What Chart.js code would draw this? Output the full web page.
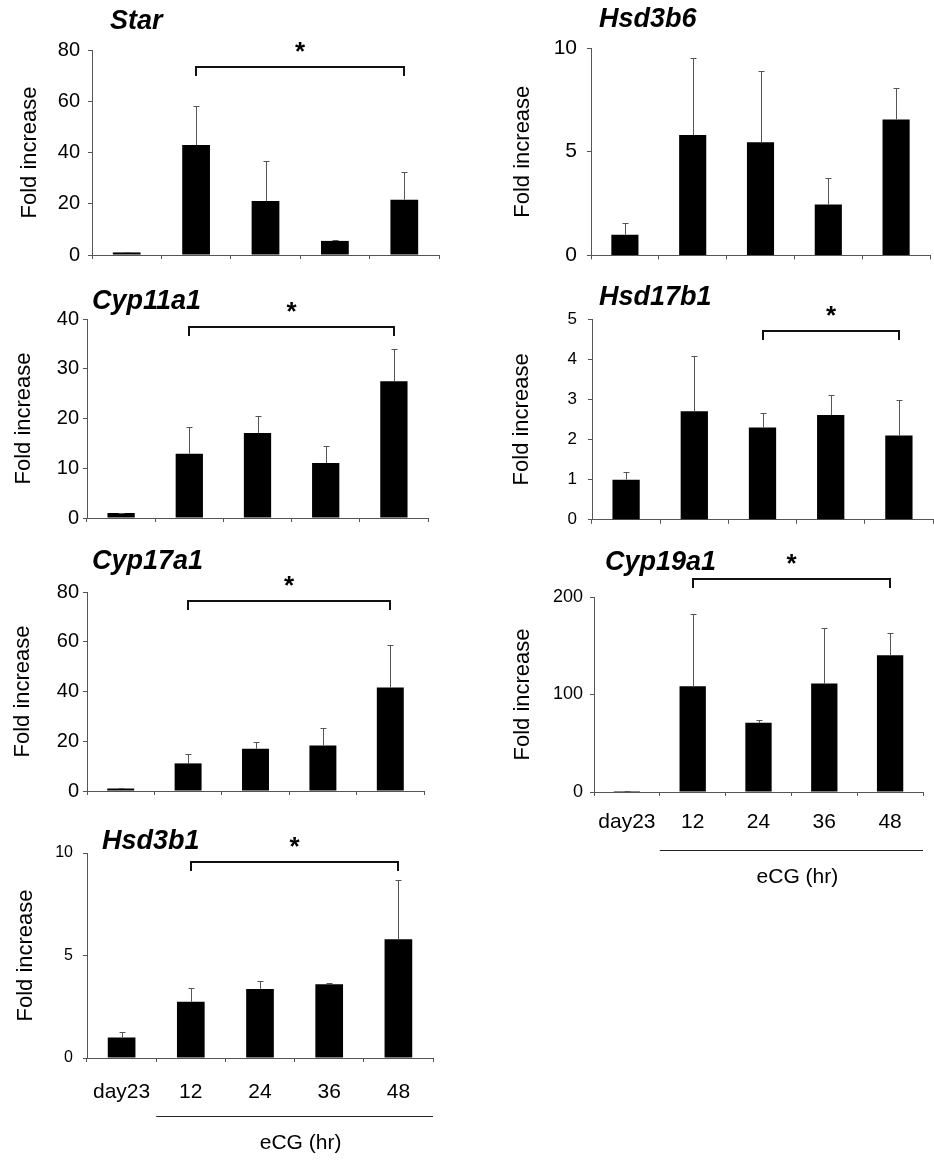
<!DOCTYPE html>
<html>
<head>
<meta charset="utf-8">
<script src="https://cdn.jsdelivr.net/npm/chart.js@4.4.1/dist/chart.umd.min.js"></script>
<style>
  html, body { margin: 0; padding: 0; background: #fff; }
  body { width: 934px; height: 1161px; position: relative; overflow: hidden; }
  canvas { position: absolute; }
</style>
</head>
<body>
<script>
var categories = ['day23', '12', '24', '36', '48'];
var genes = ['Star', 'Hsd3b6', 'Cyp11a1', 'Hsd17b1', 'Cyp17a1', 'Cyp19a1', 'Hsd3b1'];

// mean fold increase and SD
var starMean = [1.0, 42.9, 21.1, 5.5, 21.6];
var starSD = [0.3, 15.2, 15.7, 0.3, 10.9];
var hsd3b6Mean = [1.0, 5.8, 5.45, 2.45, 6.55];
var hsd3b6SD = [0.55, 3.7, 3.45, 1.3, 1.5];
var cyp11a1Mean = [1.0, 12.9, 17.1, 11.05, 27.5];
var cyp11a1SD = [0.1, 5.3, 3.5, 3.35, 6.5];
var hsd17b1Mean = [1.0, 2.7, 2.3, 2.61, 2.1];
var hsd17b1SD = [0.2, 1.37, 0.37, 0.51, 0.89];
var cyp17a1Mean = [1.0, 11.1, 17.0, 18.3, 41.6];
var cyp17a1SD = [0.3, 3.6, 2.7, 7.1, 17.0];
var cyp19a1Mean = [1.0, 108.5, 71, 111.3, 140.3];
var cyp19a1SD = [0.5, 74.5, 2.7, 57.4, 23.2];
var hsd3b1Mean = [1.0, 2.75, 3.37, 3.6, 5.79];
var hsd3b1SD = [0.26, 0.65, 0.4, 0.06, 2.91];

var means = [starMean, hsd3b6Mean, cyp11a1Mean, hsd17b1Mean, cyp17a1Mean, cyp19a1Mean, hsd3b1Mean];
var sds = [starSD, hsd3b6SD, cyp11a1SD, hsd17b1SD, cyp17a1SD, cyp19a1SD, hsd3b1SD];

var yMax = [80, 10, 40, 5, 80, 200, 10];
var yStep = [20, 5, 10, 1, 20, 100, 5];

// significance brackets (bar index from / to, height in axis units)
var sigFrom = [1, null, 1, 2, 1, 1, 1];
var sigTo = [4, null, 4, 4, 4, 4, 4];
var sigLevel = [73.4, null, 38.3, 4.7, 76.3, 218.9, 9.56];

var yTitle = 'Fold increase';
var xTitle = 'eCG (hr)';

// layout: plot rect [left, top, right, bottom] in page pixels
var plots = [[92, 50, 439, 255], [591, 48, 930, 258], [87, 319, 428, 518], [592, 319, 933, 521],
             [87, 592, 424, 791], [594, 597, 923, 792], [87, 853, 433, 1058]];
var tickSize = [20, 21, 20, 17, 20, 18, 16];
var tickPad = [8, 10, 4, 11, 4, 7, 10];
var yTitleOff = [62, 68, 63, 70, 64, 71, 61];
var titlePos = [[18, -28], [8, -28], [5, -17], [7, -21], [5, -30], [11, -34], [15, -11]];
var showX = [false, false, false, false, false, true, true];
var xLabelPad = [0, 0, 0, 0, 0, 14, 18];

var Y_W = 85, PR = 2;
var FONT = '"Liberation Sans", Arial, sans-serif';
var AXIS = '#555';

var decor = {
  id: 'decor',
  afterDatasetsDraw: function (chart, args, o) {
    var ctx = chart.ctx, ys = chart.scales.y, a = chart.chartArea;
    var bars = chart.getDatasetMeta(0).data;
    ctx.save();

    // error bars (upper only)
    ctx.strokeStyle = AXIS;
    ctx.lineWidth = 1;
    o.sd.forEach(function (s, i) {
      var x = Math.round(bars[i].x) + 0.5;
      var y0 = ys.getPixelForValue(o.mean[i]);
      var y1 = Math.round(ys.getPixelForValue(o.mean[i] + s)) + 0.5;
      ctx.beginPath();
      ctx.moveTo(x, y0); ctx.lineTo(x, y1);
      ctx.moveTo(x - 3, y1); ctx.lineTo(x + 3, y1);
      ctx.stroke();
    });

    // gene title
    ctx.fillStyle = '#000';
    ctx.font = 'italic bold 27px ' + FONT;
    ctx.textBaseline = 'middle';
    ctx.textAlign = 'left';
    ctx.fillText(o.title, a.left + o.titlePos[0], a.top + o.titlePos[1]);

    // bracket with asterisk
    if (o.from != null) {
      var x1 = Math.round(bars[o.from].x), x2 = Math.round(bars[o.to].x);
      var y = Math.round(ys.getPixelForValue(o.level));
      ctx.strokeStyle = '#111';
      ctx.lineWidth = 2;
      ctx.beginPath();
      ctx.moveTo(x1, y + 9); ctx.lineTo(x1, y); ctx.lineTo(x2, y); ctx.lineTo(x2, y + 9);
      ctx.stroke();
      ctx.font = 'bold 26px ' + FONT;
      ctx.textAlign = 'center';
      ctx.fillText('*', (x1 + x2) / 2, y - 14);
    }

    // eCG group line and label under the bottom panels
    if (o.showX) {
      var lx = (bars[0].x + bars[1].x) / 2, rx = a.right;
      var ly = Math.round(a.bottom + 58) + 0.5;
      ctx.strokeStyle = '#222';
      ctx.lineWidth = 1;
      ctx.beginPath(); ctx.moveTo(lx, ly); ctx.lineTo(rx, ly); ctx.stroke();
      ctx.font = '21px ' + FONT;
      ctx.textAlign = 'center';
      ctx.fillText(xTitle, (lx + rx) / 2 + 6, a.bottom + 85);
    }
    ctx.restore();
  }
};

genes.forEach(function (g, k) {
  var p = plots[k];
  var pt = Math.min(70, p[1]);
  var xh = showX[k] ? 100 : 20;
  var cw = p[2] - p[0] + Y_W + PR;
  var ch = p[3] - p[1] + pt + xh;
  var cv = document.createElement('canvas');
  cv.width = cw; cv.height = ch;
  cv.style.width = cw + 'px'; cv.style.height = ch + 'px';
  cv.style.left = (p[0] - Y_W) + 'px';
  cv.style.top = (p[1] - pt) + 'px';
  document.body.appendChild(cv);

  new Chart(cv, {
    type: 'bar',
    data: {
      labels: categories,
      datasets: [{
        data: means[k],
        backgroundColor: '#000',
        borderWidth: 0,
        barPercentage: 0.4,
        categoryPercentage: 1
      }]
    },
    options: {
      responsive: false,
      animation: false,
      devicePixelRatio: 1,
      layout: { padding: { top: pt, right: PR, left: 0, bottom: 0 } },
      plugins: {
        legend: { display: false },
        tooltip: { enabled: false },
        decor: {
          title: g, titlePos: titlePos[k], mean: means[k], sd: sds[k],
          from: sigFrom[k], to: sigTo[k], level: sigLevel[k], showX: showX[k]
        }
      },
      scales: {
        x: {
          grid: { offset: true, drawOnChartArea: false, tickLength: 4, color: AXIS },
          border: { color: AXIS },
          ticks: {
            display: showX[k], padding: xLabelPad[k], maxRotation: 0, autoSkip: false,
            color: '#000', font: { family: FONT, size: 21 }
          },
          afterFit: function (s) { s.height = xh; }
        },
        y: {
          min: 0,
          max: yMax[k],
          ticks: { stepSize: yStep[k], padding: tickPad[k], color: '#000', font: { family: FONT, size: tickSize[k] } },
          grid: { drawOnChartArea: false, tickLength: 4, color: AXIS },
          border: { color: AXIS },
          title: {
            display: true, text: yTitle, color: '#000',
            font: { family: FONT, size: 22 },
            padding: { top: Y_W - yTitleOff[k] - 13.2, bottom: 0 }
          },
          afterFit: function (s) { s.width = Y_W; }
        }
      }
    },
    plugins: [decor]
  });
});
</script>
</body>
</html>
